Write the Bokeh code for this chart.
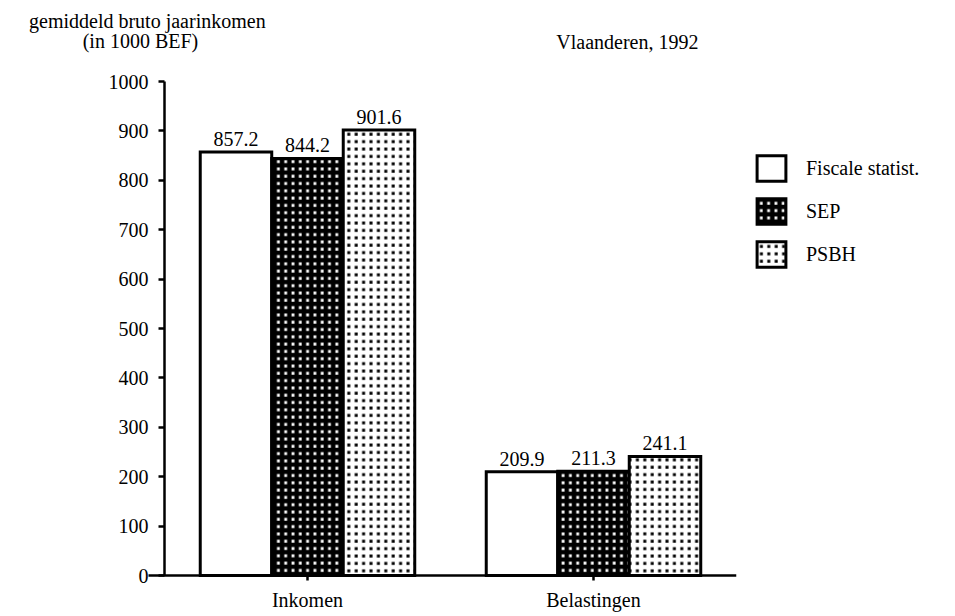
from bokeh.plotting import figure
from bokeh.models import (FixedTicker, Label, Legend, LegendItem,
                          ColumnDataSource, Range1d)
from bokeh.transform import dodge
from bokeh.core.properties import value
from bokeh.embed import file_html
from bokeh.resources import INLINE

# ---- data ----
categories = ["Inkomen", "Belastingen"]
series_names = ["Fiscale statist.", "SEP", "PSBH"]
fiscale = [857.2, 209.9]
sep = [844.2, 211.3]
psbh = [901.6, 241.1]
y_ticks = [0, 100, 200, 300, 400, 500, 600, 700, 800, 900, 1000]
title_text = "Vlaanderen, 1992"
ylabel_lines = ["gemiddeld bruto jaarinkomen", "(in 1000 BEF)"]

FONT = "Liberation Serif"
FS = "20px"

centers = [i + 0.5 for i in range(len(categories))]

source = ColumnDataSource(dict(
    xc=centers,
    fiscale=fiscale, sep=sep, psbh=psbh,
    fiscale_lbl=[f"{v:.1f}" for v in fiscale],
    sep_lbl=[f"{v:.1f}" for v in sep],
    psbh_lbl=[f"{v:.1f}" for v in psbh],
))

# frame covers the whole drawing area; axes are placed with fixed_location/bounds
p = figure(x_range=Range1d(-0.5734, len(categories)), y_range=Range1d(-76.9, 1164),
           frame_width=736, frame_height=613,
           min_border_left=0, min_border_top=0, min_border_bottom=0,
           min_border_right=208,
           output_backend="svg", toolbar_location=None)
p.title.visible = False
p.outline_line_color = None
p.xgrid.visible = False
p.ygrid.visible = False
p.background_fill_color = "white"
p.border_fill_color = "white"

# y axis
ya = p.yaxis[0]
ya.fixed_location = 0
ya.bounds = (0, 1000)
ya.ticker = FixedTicker(ticks=y_ticks)
ya.minor_tick_line_color = None
ya.major_tick_in = 0
ya.major_tick_out = 6
ya.axis_line_width = 2.5
ya.major_tick_line_width = 2.5
ya.axis_line_color = "black"
ya.major_tick_line_color = "black"
ya.major_label_standoff = 10
ya.major_label_text_font = FONT
ya.major_label_text_font_size = FS
ya.major_label_text_color = "black"

# x axis
xa = p.xaxis[0]
xa.fixed_location = 0
xa.bounds = (-0.056, len(categories))
xa.ticker = FixedTicker(ticks=centers)
xa.major_label_overrides = {c: name for c, name in zip(centers, categories)}
xa.minor_tick_line_color = None
xa.major_tick_in = 0
xa.major_tick_out = 5
xa.axis_line_width = 2.5
xa.major_tick_line_width = 2.5
xa.axis_line_color = "black"
xa.major_tick_line_color = "black"
xa.major_label_standoff = 8
xa.major_label_text_font = FONT
xa.major_label_text_font_size = FS
xa.major_label_text_color = "black"

offsets = [-0.25, 0.0, 0.25]
cols = ["fiscale", "sep", "psbh"]
styles = [
    dict(fill_color="white"),
    dict(fill_color="white", hatch_pattern="+", hatch_color="black",
         hatch_weight=4.5, hatch_scale=7.3),
    dict(fill_color="black", hatch_pattern="+", hatch_color="white",
         hatch_weight=4.4, hatch_scale=7.4),
]

renderers = []
for off, col, st in zip(offsets, cols, styles):
    r = p.vbar(x=dodge("xc", off), top=col, width=0.25,
               source=source, line_color="black", line_width=3,
               line_join="miter", **st)
    renderers.append(r)
    p.text(x=dodge("xc", off), y=col, text=col + "_lbl",
           source=source, text_align="center", text_baseline="bottom",
           y_offset=-6, text_font=value(FONT), text_font_size=FS,
           text_color="black")

legend = Legend(
    items=[LegendItem(label=n, renderers=[r]) for n, r in zip(series_names, renderers)],
    location=(17, 343), glyph_width=36, glyph_height=32, spacing=11,
    padding=10, margin=0, label_standoff=17,
    label_text_font=FONT, label_text_font_size=FS, label_text_color="black",
    border_line_color=None, background_fill_alpha=0,
)
p.add_layout(legend, "right")

# texts above the bars (data units, inside the frame)
p.add_layout(Label(x=-0.06, y=1123, text=ylabel_lines[0], text_align="center",
                   text_baseline="alphabetic", text_font=FONT,
                   text_font_size="20px", text_color="black"))
p.add_layout(Label(x=-0.084, y=1082, text=ylabel_lines[1], text_align="center",
                   text_baseline="alphabetic", text_font=FONT,
                   text_font_size="20px", text_color="black"))
p.add_layout(Label(x=1.867, y=1080, text=title_text, text_align="right",
                   text_baseline="alphabetic", text_font=FONT,
                   text_font_size=FS, text_color="black"))

open("out.html", "w").write(file_html(p, INLINE))
